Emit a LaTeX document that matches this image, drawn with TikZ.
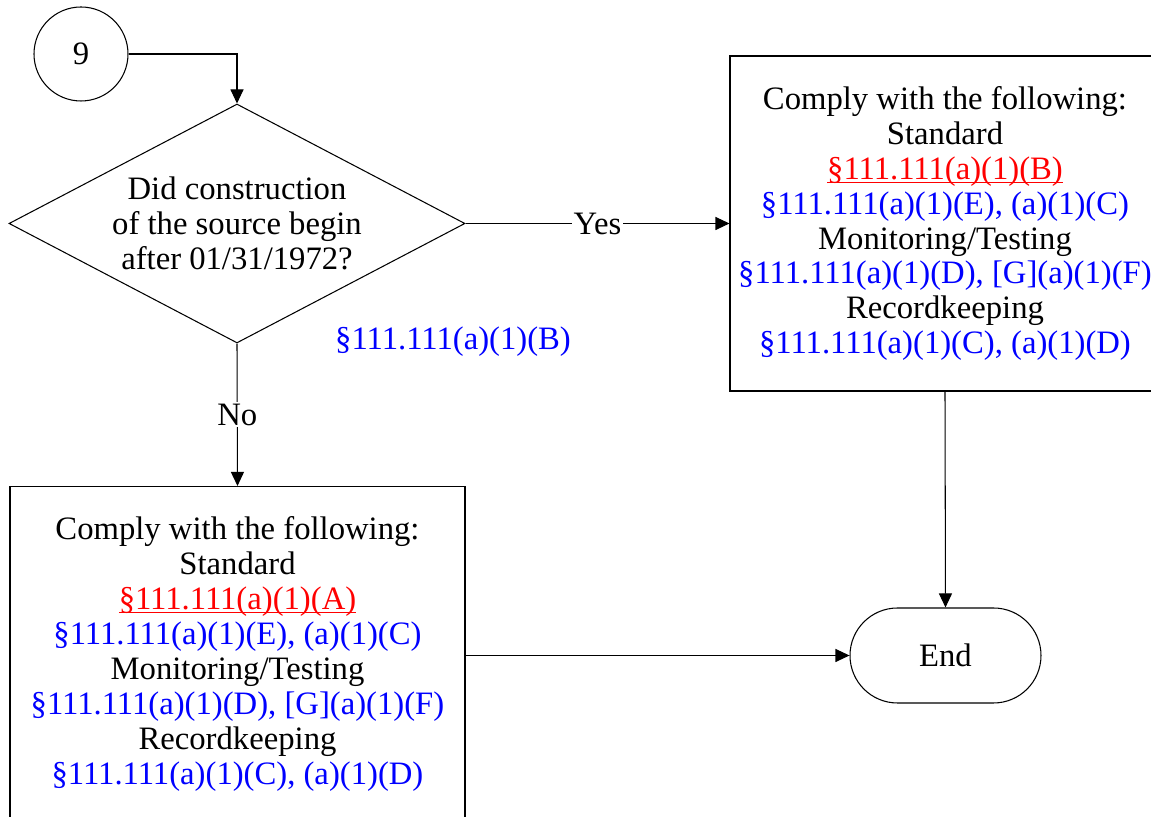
\documentclass[tikz,border=0pt]{standalone}
\usepackage{fontspec}
\setmainfont{Liberation Serif}
\usetikzlibrary{shapes.geometric,arrows.meta}

\tikzset{
	line/.style={line width=0.6pt},
	rulebox/.style={draw,line width=0.6pt,rectangle,minimum height=6.7cm,align=center,inner sep=0pt},
	lbl/.style={fill=white,inner sep=1pt},
}
\newcommand{\sref}[1]{\textcolor{blue}{#1}}
\newcommand{\sstd}[1]{\textcolor{red}{\setbox0\hbox{#1}\rlap{\rule[-2.2pt]{\wd0}{0.6pt}}\box0}}

\begin{document}
\begin{tikzpicture}[font=\fontsize{18.6}{19.9}\selectfont,>={Triangle[length=0.28cm,width=0.26cm]}]
	\useasboundingbox (0,0) rectangle (23.02,16.34);

	%connector and question
	\node[draw,line,circle,minimum size=1.88cm,inner sep=0pt] (c9) at (1.62,15.26) {9};
	\node[draw,line,diamond,aspect=1.91,inner sep=0pt,minimum width=9.12cm,minimum height=4.78cm,align=center] (q) at (4.74,11.87)
		{Did construction\\of the source begin\\after 01/31/1972?};
	\node[text=blue] (qref) at (9.06,9.50) {\S111.111(a)(1)(B)};

	%outcome boxes
	\node[rulebox,minimum width=8.6cm] (rbox) at (18.90,11.87)
		{Comply with the following:\\Standard\\\sstd{\S111.111(a)(1)(B)}\\\sref{\S111.111(a)(1)(E), (a)(1)(C)}\\Monitoring/Testing\\\sref{\S111.111(a)(1)(D), [G](a)(1)(F)}\\Recordkeeping\\\sref{\S111.111(a)(1)(C), (a)(1)(D)}};
	\node[rulebox,minimum width=9.1cm] (lbox) at (4.75,3.26)
		{Comply with the following:\\Standard\\\sstd{\S111.111(a)(1)(A)}\\\sref{\S111.111(a)(1)(E), (a)(1)(C)}\\Monitoring/Testing\\\sref{\S111.111(a)(1)(D), [G](a)(1)(F)}\\Recordkeeping\\\sref{\S111.111(a)(1)(C), (a)(1)(D)}};

	%terminator
	\node[draw,line,rectangle,rounded corners=0.95cm,minimum width=3.82cm,minimum height=1.9cm] (end) at (18.91,3.23) {End};

	%arrows
	\draw[line,->] (c9.east) -| (q.north);
	\draw[line,->] (q.east) -- node[lbl] {Yes} (rbox.west);
	\draw[line,->] (q.south) -- node[lbl] {No} (lbox.north);
	\draw[line,->] (rbox.south) -- (end.north);
	\draw[line,->] (end.west -| lbox.east) -- (end.west);
\end{tikzpicture}
\end{document}
